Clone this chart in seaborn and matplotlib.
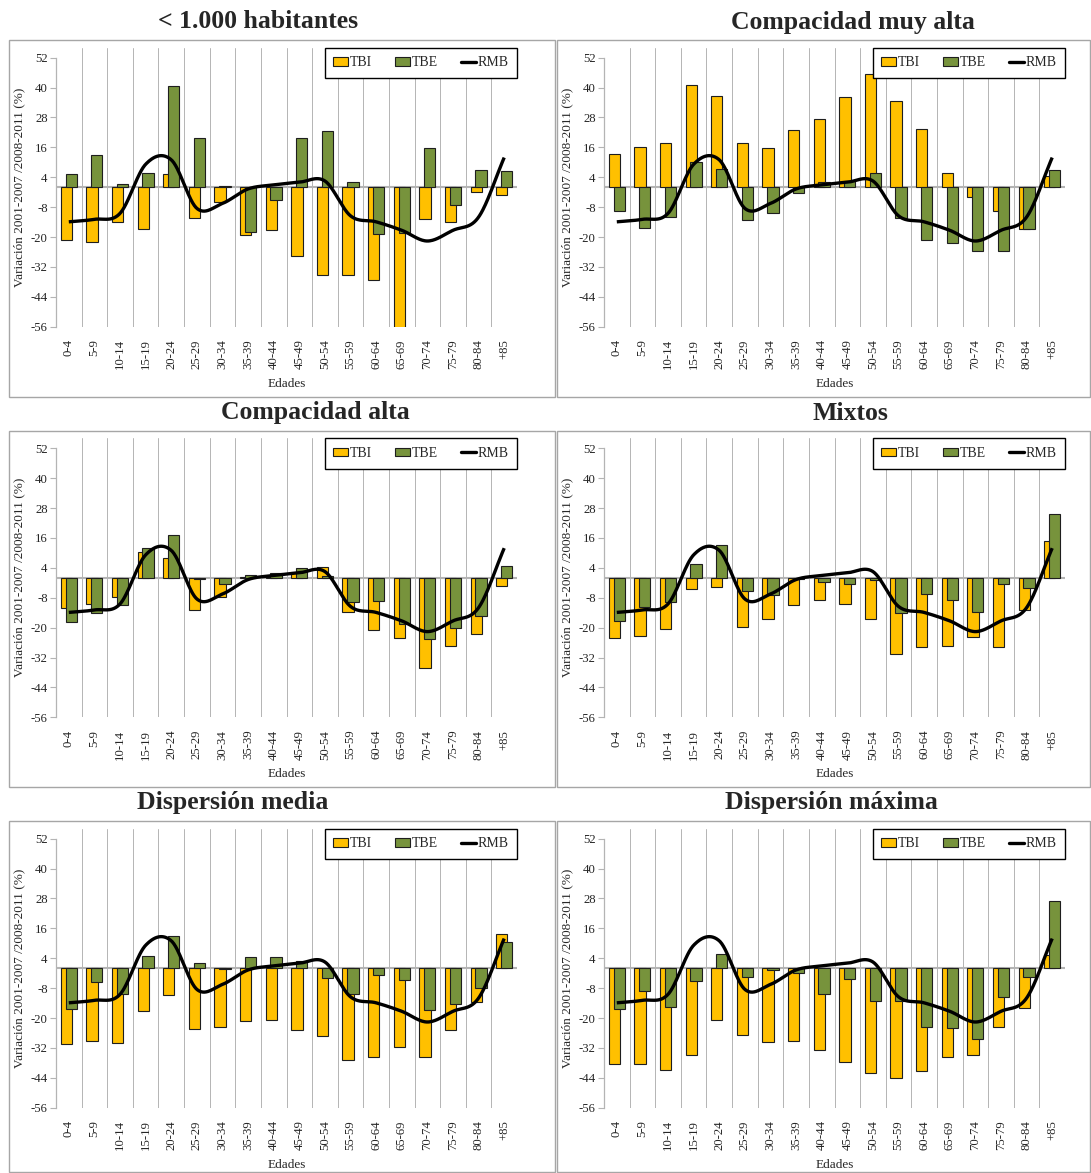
import numpy as np
import pandas as pd
import matplotlib
matplotlib.use("Agg")
import matplotlib.pyplot as plt
import seaborn as sns
from matplotlib.patches import Patch, Rectangle
from matplotlib.lines import Line2D

# ---------------- data ----------------
edades = ["0-4", "5-9", "10-14", "15-19", "20-24", "25-29", "30-34", "35-39", "40-44",
          "45-49", "50-54", "55-59", "60-64", "65-69", "70-74", "75-79", "80-84", "+85"]

titulos = ["< 1.000 habitantes", "Compacidad muy alta", "Compacidad alta",
           "Mixtos", "Dispersión media", "Dispersión máxima"]

tbi_menos_1000 = [-21.0, -22.0, -13.9, -16.6, 5.1, -12.3, -5.8, -19.3, -17.0, -27.7, -35.2, -35.1, -37.1, -57.0, -12.6, -13.8, -1.9, -3.2]
tbe_menos_1000 = [5.4, 13.1, 1.3, 5.6, 40.6, 19.7, 0.5, -17.9, -5.0, 19.7, 22.5, 1.9, -18.6, -18.2, 15.8, -7.0, 7.1, 6.6]

tbi_comp_muy_alta = [13.4, 16.2, 17.8, 41.0, 36.8, 17.8, 15.8, 22.9, 27.2, 36.3, 45.6, 34.7, 23.2, 5.9, -4.1, -9.5, -16.7, 4.3]
tbe_comp_muy_alta = [-9.4, -16.2, -11.9, 10.2, 7.5, -13.0, -10.2, -2.5, 2.1, 2.4, 5.6, -12.2, -21.0, -22.6, -25.6, -25.8, -16.7, 7.1]

tbi_comp_alta = [-12.3, -10.7, -7.8, 10.2, 7.9, -12.9, -7.8, 0.5, 0.5, 2.4, 4.3, -13.9, -20.9, -24.1, -36.1, -27.4, -22.5, -3.2]
tbe_comp_alta = [-17.8, -14.1, -11.0, 11.8, 17.3, -0.5, -2.4, 1.0, 1.8, 4.1, 0.7, -9.8, -9.4, -18.7, -24.5, -20.1, -15.5, 4.6]

tbi_mixtos = [-24.2, -23.3, -20.6, -4.6, -3.5, -19.7, -16.5, -11.1, -8.8, -10.7, -16.5, -30.5, -27.8, -27.3, -23.7, -27.8, -12.9, 14.7]
tbe_mixtos = [-17.3, -11.6, -9.9, 5.5, 13.0, -5.1, -6.8, -0.3, -1.6, -2.5, -0.7, -14.1, -6.6, -9.1, -13.7, -2.4, -3.9, 25.8]

tbi_disp_media = [-30.5, -29.3, -30.0, -17.3, -10.8, -24.6, -23.6, -21.3, -20.6, -24.9, -27.3, -36.8, -35.6, -31.7, -35.6, -24.8, -13.7, 13.8]
tbe_disp_media = [-16.3, -5.4, -10.2, 4.8, 13.0, 1.9, -0.4, 4.4, 4.3, 2.9, -4.0, -10.3, -2.7, -4.7, -16.9, -14.3, -8.0, 10.7]

tbi_disp_max = [-38.6, -38.3, -40.8, -34.7, -20.9, -26.8, -29.7, -29.2, -32.8, -37.6, -42.2, -44.0, -41.1, -35.6, -34.7, -23.6, -15.8, 5.4]
tbe_disp_max = [-16.5, -9.1, -15.4, -5.0, 5.8, -3.5, -0.9, -2.0, -10.2, -4.3, -13.3, -13.3, -23.6, -24.2, -28.5, -11.4, -3.6, 27.0]

rmb = [-13.9, -12.9, -10.5, 9.2, 11.0, -8.5, -6.5, -0.7, 0.9, 2.0, 2.5, -11.5, -13.9, -17.3, -21.6, -17.3, -12.0, 11.9]

y_ticks = [-56, -44, -32, -20, -8, 4, 16, 28, 40, 52]

paneles = [
    (tbi_menos_1000, tbe_menos_1000),
    (tbi_comp_muy_alta, tbe_comp_muy_alta),
    (tbi_comp_alta, tbe_comp_alta),
    (tbi_mixtos, tbe_mixtos),
    (tbi_disp_media, tbe_disp_media),
    (tbi_disp_max, tbe_disp_max),
]

# ---------------- style ----------------
sns.set_style("white")
plt.rcParams['font.family'] = ['Liberation Serif', 'DejaVu Serif']

W, H = 1091, 1173
YELLOW = '#FFC000'
GREEN = '#77933C'
GRID = '#b4b4b4'
FRAME = '#a6a6a6'
EDGE = '#1e1e1e'

fig = plt.figure(figsize=(W / 100, H / 100), dpi=100)


def smooth_curve(y, n=30):
    """Catmull-Rom smoothing (rendering of a smoothed line through the points)."""
    y = np.asarray(y, float)
    P = np.concatenate([[2 * y[0] - y[1]], y, [2 * y[-1] - y[-2]]])
    xs, ys = [], []
    t = np.linspace(0, 1, n, endpoint=False)
    h00 = 2 * t**3 - 3 * t**2 + 1
    h10 = t**3 - 2 * t**2 + t
    h01 = -2 * t**3 + 3 * t**2
    h11 = t**3 - t**2
    for i in range(len(y) - 1):
        p0, p1, p2, p3 = P[i], P[i + 1], P[i + 2], P[i + 3]
        m1 = (p2 - p0) / 2
        m2 = (p3 - p1) / 2
        ys.append(h00 * p1 + h10 * m1 + h01 * p2 + h11 * m2)
        xs.append(i + t)
    xs.append([len(y) - 1])
    ys.append([y[-1]])
    return np.concatenate(xs), np.concatenate(ys)


col_left = [56, 604]
row_bottom = [326.7, 717.3, 1107.7]
ax_w, ax_h = 461, 279

frames_x = [(9, 555), (557, 1090)]
frames_y = [(40, 397), (431, 787), (821, 1172)]

title_pos = [(258, 22), (853, 22), (315, 413), (850, 413), (233, 803), (831, 803)]

for k, (tbi, tbe) in enumerate(paneles):
    r, c = divmod(k, 2)
    fx0, fx1 = frames_x[c]
    fy0, fy1 = frames_y[r]
    fig.add_artist(Rectangle((fx0 / W, 1 - fy1 / H), (fx1 - fx0) / W, (fy1 - fy0) / H,
                             transform=fig.transFigure, fill=False,
                             edgecolor=FRAME, linewidth=1.0))
    tx, ty = title_pos[k]
    fig.text(tx / W, 1 - ty / H, titulos[k], ha='center', va='center',
             fontsize=18.5, fontweight='bold')

    ax = fig.add_axes([col_left[c] / W, 1 - row_bottom[r] / H, ax_w / W, ax_h / H])
    ax.set_facecolor('none')

    df = pd.DataFrame({'Edades': edades, 'TBI': tbi, 'TBE': tbe})

    n0 = len(ax.patches)
    sns.barplot(data=df, x='Edades', y='TBI', color=YELLOW, saturation=1, width=0.44,
                edgecolor=EDGE, linewidth=0.8, errorbar=None, ax=ax, zorder=2)
    for p in ax.patches[n0:]:
        p.set_x(p.get_x() - 0.095)
    n1 = len(ax.patches)
    sns.barplot(data=df, x='Edades', y='TBE', color=GREEN, saturation=1, width=0.44,
                edgecolor=EDGE, linewidth=0.8, errorbar=None, ax=ax, zorder=3)
    for p in ax.patches[n1:]:
        p.set_x(p.get_x() + 0.095)

    xs, ys = smooth_curve(rmb)
    ax.plot(xs, ys, color='black', linewidth=2.4, zorder=5, solid_capstyle='butt')

    for b in np.arange(0.5, len(edades) - 0.5, 1.0):
        ax.axvline(b, color=GRID, linewidth=0.7, zorder=0)
    ax.axhline(0, color=GRID, linewidth=1.5, zorder=1)

    ax.set_xlim(-0.5, len(edades) - 0.5)
    ax.set_ylim(-56, 56)
    ax.set_yticks(y_ticks)
    ax.set_yticklabels([str(v) for v in y_ticks])

    for s in ['top', 'right', 'bottom']:
        ax.spines[s].set_visible(False)
    ax.spines['left'].set_color(GRID)
    ax.spines['left'].set_linewidth(0.9)
    ax.spines['left'].set_bounds(-56, 52)

    ax.tick_params(axis='y', left=True, length=4, width=0.8, color=GRID,
                   labelsize=9.2, pad=2, direction='out')
    ax.tick_params(axis='x', bottom=False, length=0, labelsize=9.2, pad=9,
                   labelrotation=90)

    ax.set_xlabel('Edades', fontsize=9.5, labelpad=6)
    ax.set_ylabel('Variación 2001-2007 /2008-2011 (%)', fontsize=9.5, labelpad=4)

    handles = [Patch(facecolor=YELLOW, edgecolor=EDGE, linewidth=0.8),
               Patch(facecolor=GREEN, edgecolor=EDGE, linewidth=0.8),
               Line2D([0], [0], color='black', linewidth=2.4)]
    leg = ax.legend(handles, ['TBI', 'TBE', 'RMB'], loc='upper right',
                    bbox_to_anchor=(1.0, 1.0), ncol=3, frameon=True, fancybox=False,
                    edgecolor='black', framealpha=1, fontsize=10,
                    handlelength=1.05, handleheight=0.55, handletextpad=0.12,
                    columnspacing=1.7, borderpad=0.62, borderaxespad=0)
    leg.get_frame().set_linewidth(1.0)
    leg.set_zorder(10)

fig.savefig('out.png', dpi=100)
